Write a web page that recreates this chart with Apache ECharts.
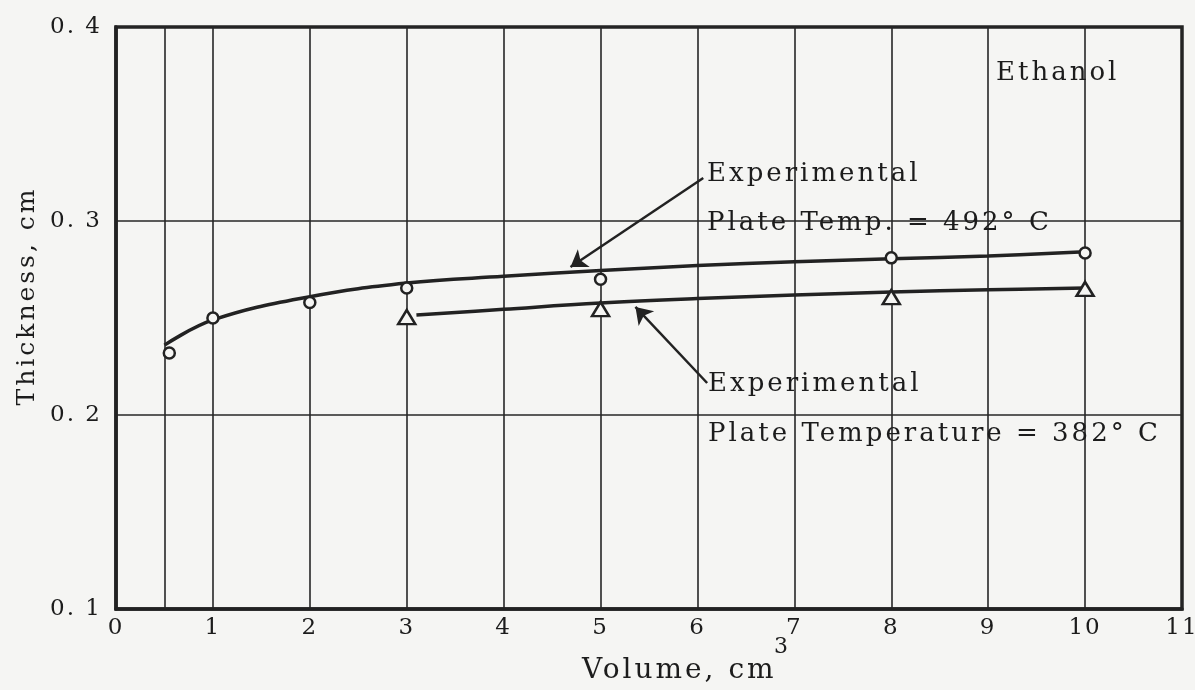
<!DOCTYPE html>
<html>
<head>
<meta charset="utf-8">
<script src="https://cdn.jsdelivr.net/npm/echarts@6/dist/echarts.min.js"></script>
<style>
  html, body { margin: 0; padding: 0; background: #f5f5f3; }
  #chart { width: 1195px; height: 690px; }
</style>
</head>
<body>
<div id="chart"></div>
<script>
// Film thickness against injected volume for ethanol on a heated plate

const xTicks = [0, 1, 2, 3, 4, 5, 6, 7, 8, 9, 10, 11];
const yTicks = [0.1, 0.2, 0.3, 0.4];
const extraGridX = [0.5];

// Measured points, plate at 492 °C (circles)
const vol492 = [0.55, 1, 2, 3, 5, 8, 10];
const thick492 = [0.232, 0.250, 0.258, 0.2655, 0.270, 0.281, 0.2835];

// Measured points, plate at 382 °C (triangles)
const vol382 = [3, 5, 8, 10];
const thick382 = [0.2505, 0.2546, 0.2608, 0.265];

// Faired curves drawn through each data set
const curveVol492 = [0.5, 1, 2, 3, 4, 5, 6, 7, 8, 9, 10];
const curveThick492 = [0.236, 0.249, 0.261, 0.268, 0.2715, 0.2745, 0.277, 0.279, 0.2805, 0.282, 0.2842];
const curveVol382 = [3.1, 4, 5, 6, 7, 8, 9, 10];
const curveThick382 = [0.2515, 0.2545, 0.2577, 0.2600, 0.2618, 0.2634, 0.2645, 0.2655];

// Leader arrows from the labels to the curves (volume, thickness)
const arrow492Tail = [6.06, 0.3222];
const arrow492Head = [4.69, 0.2763];
const arrow382Tail = [6.10, 0.2165];
const arrow382Head = [5.36, 0.2557];

const ink = '#222';
const textInk = '#1c1c1c';
const paper = '#f5f5f3';
const serif = 'DejaVu Serif';

// Typewriter-style tracking: widen the letter spacing of all canvas text
(function () {
  const P = CanvasRenderingContext2D.prototype;
  if (!('letterSpacing' in P)) return;
  const fill = P.fillText, measure = P.measureText;
  const track = ctx => {
    const m = /(\d+(?:\.\d+)?)px/.exec(ctx.font || '');
    const size = m ? parseFloat(m[1]) : 12;
    ctx.letterSpacing = Math.round(size * 0.1) + 'px';
  };
  P.fillText = function () { track(this); return fill.apply(this, arguments); };
  P.measureText = function () { track(this); return measure.apply(this, arguments); };
})();

const zip = (xs, ys) => xs.map((x, i) => [x, ys[i]]);

const chart = echarts.init(document.getElementById('chart'), null, { renderer: 'canvas' });

chart.setOption({
  backgroundColor: paper,
  animation: false,
  grid: {
    left: 116, right: 13, top: 27, bottom: 81,
    outerBoundsMode: 'none',
    containLabel: false,
    show: true, borderColor: ink, borderWidth: 3.5, backgroundColor: 'transparent'
  },
  xAxis: {
    type: 'value',
    min: xTicks[0], max: xTicks[xTicks.length - 1], interval: 1,
    axisLine: { show: true, lineStyle: { color: ink, width: 3.5 } },
    axisTick: { show: false },
    axisLabel: {
      color: textInk, fontFamily: serif, fontSize: 23, margin: 7,
      formatter: v => String(v)
    },
    splitLine: { show: true, lineStyle: { color: '#262626', width: 1.6 } }
  },
  yAxis: {
    type: 'value',
    min: yTicks[0], max: yTicks[yTicks.length - 1], interval: 0.1,
    axisLine: { show: true, lineStyle: { color: ink, width: 3.5 } },
    axisTick: { show: false },
    axisLabel: {
      color: textInk, fontFamily: serif, fontSize: 23, margin: 14,
      formatter: v => v.toFixed(1).replace('.', '. ')
    },
    splitLine: { show: true, lineStyle: { color: '#262626', width: 1.6 } }
  },
  series: [
    {
      // extra half-unit grid line
      type: 'line',
      data: [],
      silent: true,
      markLine: {
        silent: true,
        symbol: 'none',
        label: { show: false },
        lineStyle: { color: '#262626', width: 1.6, type: 'solid' },
        data: extraGridX.map(x => ({ xAxis: x }))
      }
    },
    {
      // leader arrows
      type: 'line',
      data: [],
      silent: true,
      itemStyle: { color: ink },
      markLine: {
        silent: true,
        symbol: ['none', 'arrow'],
        symbolSize: 16,
        label: { show: false },
        itemStyle: { color: ink },
        lineStyle: { color: ink, width: 2.5, type: 'solid' },
        data: [
          [{ coord: arrow492Tail }, { coord: arrow492Head }],
          [{ coord: arrow382Tail }, { coord: arrow382Head }]
        ]
      }
    },
    {
      name: '492 curve',
      type: 'line',
      smooth: 0.4,
      showSymbol: false,
      lineStyle: { color: ink, width: 3.5 },
      data: zip(curveVol492, curveThick492),
      z: 3
    },
    {
      name: '382 curve',
      type: 'line',
      smooth: 0.4,
      showSymbol: false,
      lineStyle: { color: ink, width: 3.5 },
      data: zip(curveVol382, curveThick382),
      z: 3
    },
    {
      name: '492 °C',
      type: 'scatter',
      symbol: 'circle',
      symbolSize: 11,
      itemStyle: { color: paper, borderColor: ink, borderWidth: 2.5, opacity: 1 },
      data: zip(vol492, thick492),
      z: 5
    },
    {
      name: '382 °C',
      type: 'scatter',
      symbol: 'triangle',
      symbolSize: [17, 14],
      itemStyle: { color: paper, borderColor: ink, borderWidth: 2.5, opacity: 1 },
      data: zip(vol382, thick382),
      z: 5
    }
  ],
  graphic: [
    { type: 'text', x: 996, y: 73, z: 10,
      style: { text: 'Ethanol', font: '26px ' + serif, fill: textInk, textVerticalAlign: 'middle' } },
    { type: 'text', x: 707, y: 174, z: 10,
      style: { text: 'Experimental', font: '26px ' + serif, fill: textInk, textVerticalAlign: 'middle' } },
    { type: 'text', x: 707, y: 223, z: 10,
      style: { text: 'Plate Temp. = 492° C', font: '26px ' + serif, fill: textInk, textVerticalAlign: 'middle' } },
    { type: 'text', x: 708, y: 384, z: 10,
      style: { text: 'Experimental', font: '26px ' + serif, fill: textInk, textVerticalAlign: 'middle' } },
    { type: 'text', x: 708, y: 434, z: 10,
      style: { text: 'Plate Temperature = 382° C', font: '26px ' + serif, fill: textInk, textVerticalAlign: 'middle' } },
    { type: 'text', x: 582, y: 671, z: 10,
      style: { text: 'Volume, cm', font: '28px ' + serif, fill: textInk, textVerticalAlign: 'middle' } },
    { type: 'text', x: 774, y: 647, z: 10,
      style: { text: '3', font: '22px ' + serif, fill: textInk, textVerticalAlign: 'middle' } },
    { type: 'text', x: 27, y: 296, z: 10, rotation: Math.PI / 2,
      style: { text: 'Thickness, cm', font: '25px ' + serif, fill: textInk,
               textAlign: 'center', textVerticalAlign: 'middle' } }
  ]
});
</script>
</body>
</html>
